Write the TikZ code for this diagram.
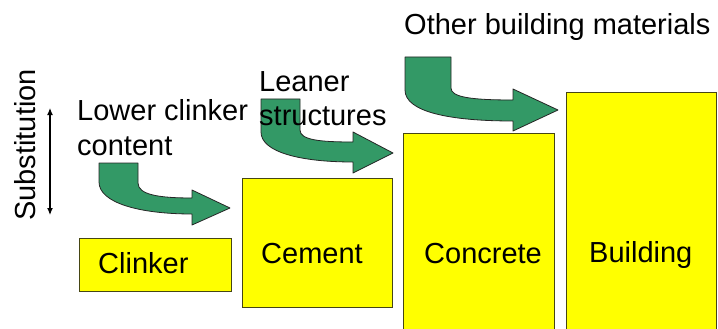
\documentclass[tikz,border=0pt]{standalone}
\usepackage{fontspec}
\setmainfont{Liberation Sans}
\usetikzlibrary{arrows.meta}
\definecolor{boxyellow}{RGB}{255,255,0}
\definecolor{boxline}{RGB}{70,70,20}
\definecolor{arrowgreen}{RGB}{51,153,102}
\begin{document}
\begin{tikzpicture}[x=1pt,y=-1pt,
  box/.style={draw=boxline,fill=boxyellow,line width=0.9pt,inner sep=0pt,anchor=north west},
  lbl/.style={anchor=base west,inner sep=0pt,font=\fontsize{29}{34}\selectfont},
  bigarrow/.style={draw=black!85,fill=arrowgreen,line width=0.8pt,line join=round}]
\clip (0,0) rectangle (718,329);
\fill[white] (0,0) rectangle (718,329);
% boxes
\node[box,minimum width=152pt,minimum height=53pt] (clinker) at (79,238) {};
\node[box,minimum width=150pt,minimum height=129pt] (cement) at (242,178) {};
\node[box,minimum width=151pt,minimum height=200pt] (concrete) at (403,133) {};
\node[box,minimum width=150pt,minimum height=240pt] (building) at (566,92) {};
% box labels
\node[lbl] (tclinker) at (98,273) {Clinker};
\node[lbl] (tcement) at (261,263) {Cement};
\node[lbl] (tconcrete) at (424,263) {Concrete};
\node[lbl] (tbuilding) at (589,262) {Building};
% green bent arrows
\draw[bigarrow] (99,163) -- (138,163) -- (138,183)
  .. controls (138,195) and (160,198) .. (192,198) -- (192,190) -- (230,208)
  -- (192,225) -- (192,214) .. controls (140,214) and (99,203) .. (99,182) -- cycle;
\draw[bigarrow] (261,99) -- (300,99) -- (300,130)
  .. controls (300,140) and (320,142) .. (353,142) -- (353,132) -- (393,153)
  -- (353,173) -- (353,162) .. controls (300,162) and (261,152) .. (261,132) -- cycle;
\draw[bigarrow] (405,57) -- (451,57) -- (451,88)
  .. controls (451,97) and (470,100) .. (513,100) -- (513,89) -- (558,110)
  -- (513,131) -- (513,121) .. controls (450,121) and (405,112) .. (405,90) -- cycle;
% texts
\node[lbl] (other) at (404,35) {Other building materials};
\node[lbl] (lower1) at (77,121) {Lower clinker};
\node[lbl] (lower2) at (77,155) {content};
\node[lbl] (leaner1) at (259,92) {Leaner};
\node[lbl] (leaner2) at (259,125) {structures};
\node[lbl,anchor=base,rotate=90] (subst) at (35,145) {Substitution};
% double arrow
\coordinate (stop) at (50,108);
\coordinate (sbot) at (50,215);
\draw[line width=1.2pt,{Latex[length=7pt,width=6pt]}-{Latex[length=7pt,width=6pt]}] (stop) -- (sbot);
\end{tikzpicture}
\end{document}
